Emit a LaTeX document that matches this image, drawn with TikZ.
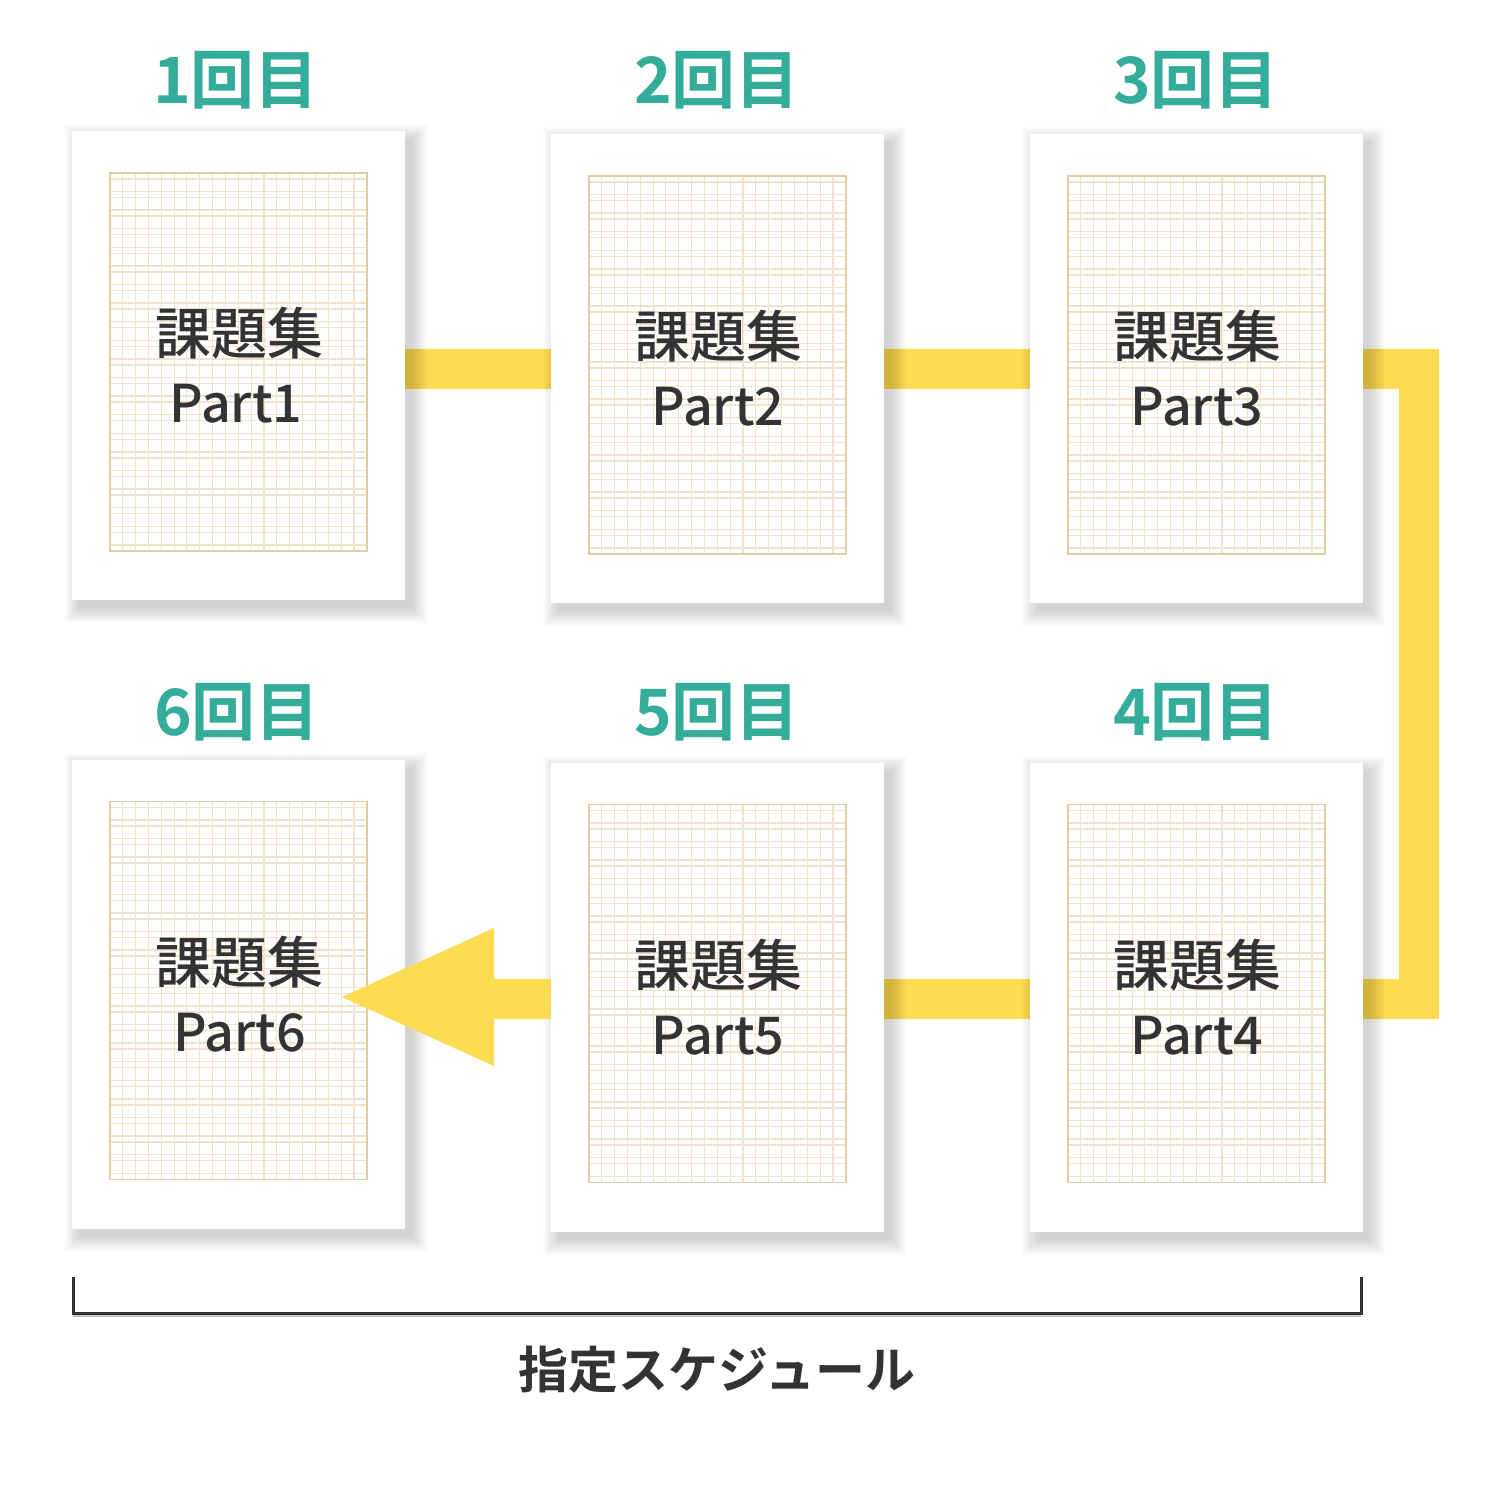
\documentclass[tikz,border=0pt]{standalone}
\usepackage{fontspec}
\newfontfamily\jp{Noto Sans CJK JP}[UprightFont=* Medium, BoldFont=* Bold]
\usetikzlibrary{calc}
\definecolor{band}{HTML}{FDDB52}
\definecolor{teal}{HTML}{34AC9A}
\definecolor{ink}{HTML}{333333}
\definecolor{gridline}{HTML}{F0E3CC}
\definecolor{gridborder}{HTML}{E2CDA2}
\tikzset{
  paper/.style={fill=white, draw=none, minimum width=333pt, minimum height=469pt, inner sep=0pt},
  shadowlayer/.style={fill=black, fill opacity=0.016, draw=none},
  bandline/.style={draw=band, line width=40pt, miter limit=10},
  lbl/.style={text=teal, font=\jp\bfseries\fontsize{64}{64}\selectfont, inner sep=0pt},
  ttl/.style={text=ink, font=\jp\fontsize{56}{56}\selectfont, inner sep=0pt},
  prt/.style={text=ink, font=\jp\fontsize{52}{52}\selectfont, inner sep=0pt},
  bracket/.style={draw=ink, line width=3pt},
}
\newcommand{\paperat}[3]{%
  \foreach \r in {0,1.5,...,15} {
    \fill[shadowlayer] ({#2-166.5+7-\r},{#3-234.5+8-\r}) rectangle ({#2+166.5+7+\r},{#3+234.5+8+\r});
  }
  \node[paper] (#1) at (#2,#3) {};%
}
\newcommand{\papergrid}[1]{%
  \begin{scope}[shift={(#1.north west)}]
    \foreach \i in {1,...,19} {
      \draw[gridline, line width=1.1pt] ({38+\i*12.85},42) -- ({38+\i*12.85},420);
    }
    \foreach \k in {0,...,19} {
      \draw[gridline, line width=1.4pt] (38,{42+6+\k*18.6}) -- (295,{42+6+\k*18.6});
      \draw[gridline, line width=1.4pt] (38,{42+18.6+\k*18.6}) -- (295,{42+18.6+\k*18.6});
    }
    \draw[gridborder, line width=1.5pt] (38,42) rectangle (295,420);
  \end{scope}%
}
\begin{document}
\begin{tikzpicture}[x=1pt,y=-1pt]
\useasboundingbox (0,0) rectangle (1500,1500);
\fill[white] (0,0) rectangle (1500,1500);

% coordinates for bands
\coordinate (b1s) at (405,369);
\coordinate (b1e) at (551,369);
\coordinate (b2s) at (884,369);
\coordinate (b2e) at (1030,369);
\coordinate (b3s) at (1363,369);
\coordinate (c1) at (1419,369);
\coordinate (c2) at (1419,999);
\coordinate (b3e) at (1363,999);
\coordinate (b4s) at (1030,999);
\coordinate (b4e) at (884,999);

\draw[bandline] (b1s) -- (b1e);
\draw[bandline] (b2s) -- (b2e);
\draw[bandline] (b3s) -- (c1) -- (c2) -- (b3e);
\draw[bandline] (b4s) -- (b4e);

% papers
\paperat{p1}{238.5}{365.5}
\paperat{p2}{717.5}{368.5}
\paperat{p3}{1196.5}{368.5}
\paperat{p4}{1196.5}{997}
\paperat{p5}{717.5}{997}
\paperat{p6}{238.5}{994}

\papergrid{p1}\papergrid{p2}\papergrid{p3}
\papergrid{p4}\papergrid{p5}\papergrid{p6}

% arrow from p5 to p6
\coordinate (tip) at (342,997);
\fill[band] (p5.west |- 0,979) -- (494,979) -- (494,928) -- (tip) -- (494,1066) -- (494,1019) -- (p5.west |- 0,1019) -- cycle;

% labels
\node[lbl] (l1) at (236,80) {1回目};
\node[lbl] (l2) at (717,80) {2回目};
\node[lbl] (l3) at (1196,80) {3回目};
\node[lbl] (l6) at (237,712) {6回目};
\node[lbl] (l5) at (717,712) {5回目};
\node[lbl] (l4) at (1196,712) {4回目};

% texts
\node[ttl] (t1) at (239.5,333) {課題集};
\node[prt] (q1) at (236,404) {Part1};
\node[ttl] (t2) at (718,336) {課題集};
\node[prt] (q2) at (718,407) {Part2};
\node[ttl] (t3) at (1197,336) {課題集};
\node[prt] (q3) at (1197,407) {Part3};
\node[ttl] (t6) at (239.5,962) {課題集};
\node[prt] (q6) at (239.5,1033) {Part6};
\node[ttl] (t5) at (718,965) {課題集};
\node[prt] (q5) at (718,1036) {Part5};
\node[ttl] (t4) at (1197,965) {課題集};
\node[prt] (q4) at (1197,1036) {Part4};

% bracket
\coordinate (bl) at (73,1277);
\coordinate (bll) at (73,1313);
\coordinate (brl) at (1361,1313);
\coordinate (br) at (1361,1277);
\draw[black!25, line width=2pt] ($(bll)+(0,2.5)$) -- ($(brl)+(0,2.5)$);
\draw[bracket] (bl) -- (bll) -- (brl) -- (br);
\node[text=ink, font=\jp\bfseries\fontsize{50}{50}\selectfont, inner sep=0pt] (sch) at (717,1370) {指定スケジュール};
\end{tikzpicture}
\end{document}
